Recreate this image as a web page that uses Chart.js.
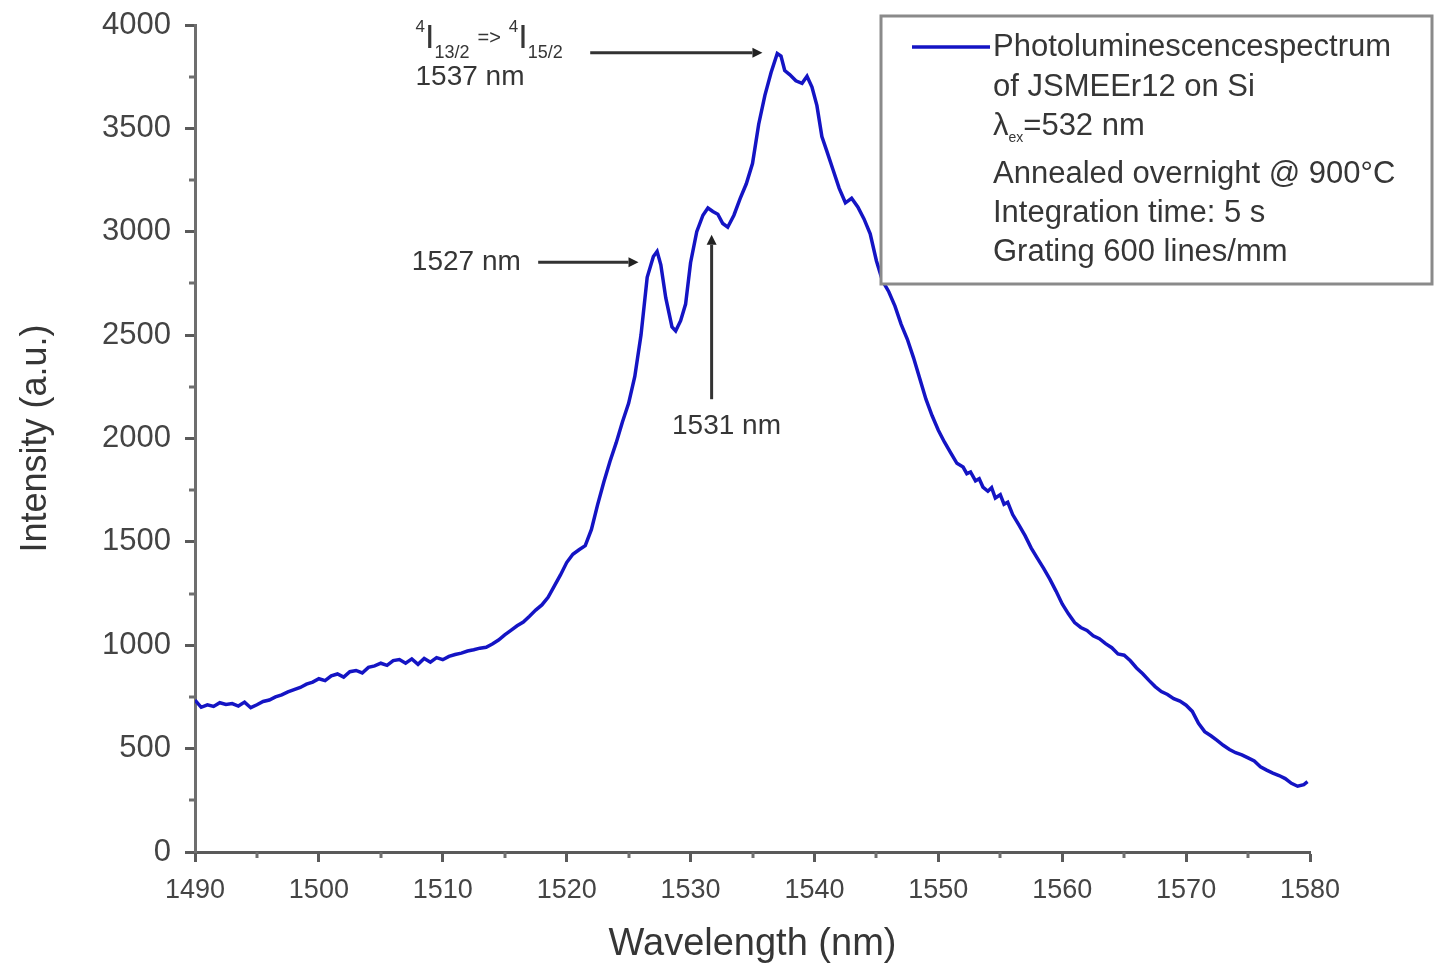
<!DOCTYPE html>
<html>
<head>
<meta charset="utf-8">
<script src="https://cdn.jsdelivr.net/npm/chart.js@4.4.1/dist/chart.umd.min.js"></script>
<style>
  html, body { margin: 0; padding: 0; background: #ffffff; }
  #wrap { width: 1435px; height: 969px; position: relative; }
</style>
</head>
<body>
<div id="wrap"><canvas id="c" width="1435" height="969"></canvas></div>
<script>
// Photoluminescence spectrum, wavelength in nm
const wavelengths = [
  1490.0, 1490.5, 1491.0, 1491.5, 1492.0, 1492.5, 1493.0, 1493.5, 1494.0, 1494.5,
  1495.0, 1495.5, 1496.0, 1496.5, 1497.0, 1497.5, 1498.0, 1498.5, 1499.0, 1499.5,
  1500.0, 1500.5, 1501.0, 1501.5, 1502.0, 1502.5, 1503.0, 1503.5, 1504.0, 1504.5,
  1505.0, 1505.5, 1506.0, 1506.5, 1507.0, 1507.5, 1508.0, 1508.5, 1509.0, 1509.5,
  1510.0, 1510.5, 1511.0, 1511.5, 1512.0, 1512.5, 1513.0, 1513.5, 1514.0, 1514.5,
  1515.0, 1515.5, 1516.0, 1516.5, 1517.0, 1517.5, 1518.0, 1518.5, 1519.0, 1519.5,
  1520.0, 1520.5, 1521.0, 1521.5, 1522.0, 1522.5, 1523.0, 1523.5, 1524.0, 1524.5,
  1525.0, 1525.5, 1526.0, 1526.5, 1527.0, 1527.3, 1527.6, 1528.0, 1528.5, 1528.8,
  1529.2, 1529.6, 1530.0, 1530.5, 1531.0, 1531.4, 1531.8, 1532.2, 1532.6, 1533.0,
  1533.5, 1534.0, 1534.5, 1535.0, 1535.5, 1536.0, 1536.5, 1537.0, 1537.3, 1537.6,
  1538.0, 1538.5, 1539.0, 1539.4, 1539.8, 1540.2, 1540.6, 1541.0, 1541.5, 1542.0,
  1542.5, 1543.0, 1543.5, 1544.0, 1544.5, 1545.0, 1545.5, 1546.0, 1546.5, 1547.0,
  1547.5, 1548.0, 1548.5, 1549.0, 1549.5, 1550.0, 1550.5, 1551.0, 1551.5, 1552.0,
  1552.3, 1552.6, 1553.0, 1553.3, 1553.6, 1554.0, 1554.3, 1554.6, 1555.0, 1555.3,
  1555.6, 1556.0, 1556.5, 1557.0, 1557.5, 1558.0, 1558.5, 1559.0, 1559.5, 1560.0,
  1560.5, 1561.0, 1561.5, 1562.0, 1562.5, 1563.0, 1563.5, 1564.0, 1564.5, 1565.0,
  1565.5, 1566.0, 1566.5, 1567.0, 1567.5, 1568.0, 1568.5, 1569.0, 1569.5, 1570.0,
  1570.5, 1571.0, 1571.5, 1572.0, 1572.5, 1573.0, 1573.5, 1574.0, 1574.5, 1575.0,
  1575.5, 1576.0, 1576.5, 1577.0, 1577.5, 1578.0, 1578.5, 1579.0, 1579.5, 1579.8
];

// Measured intensity (a.u.) at each wavelength above
const intensity = [
   735,  700,  712,  704,  722,  714,  718,  706,  725,  698,
   712,  728,  735,  750,  760,  774,  785,  796,  812,  822,
   838,  829,  852,  861,  846,  872,  878,  866,  893,  900,
   913,  903,  926,  931,  913,  934,  908,  936,  918,  940,
   930,  946,  955,  962,  972,  978,  986,  990, 1006, 1025,
  1050, 1072, 1094, 1112, 1140, 1170, 1195, 1232, 1286, 1340,
  1400, 1440, 1462, 1482, 1560, 1680, 1790, 1890, 1980, 2080,
  2170, 2300, 2500, 2780, 2880, 2905, 2840, 2680, 2540, 2520,
  2570, 2650, 2850, 3000, 3080, 3115, 3098, 3085, 3040, 3022,
  3080, 3160, 3232, 3330, 3520, 3660, 3770, 3862, 3850, 3780,
  3760, 3730, 3718, 3752, 3700, 3610, 3460, 3390, 3300, 3210,
  3140, 3162, 3120, 3062, 2990, 2860, 2762, 2710, 2640, 2552,
  2480, 2390, 2290, 2190, 2110, 2040, 1982, 1930, 1880, 1862,
  1830, 1838, 1795, 1805, 1765, 1745, 1762, 1712, 1728, 1682,
  1692, 1632, 1582, 1530, 1470, 1420, 1372, 1320, 1262, 1200,
  1152, 1110, 1086, 1072, 1046, 1032, 1008,  988,  958,  952,
   925,  890,  862,  830,  800,  776,  762,  742,  730,  710,
   680,  622,  582,  562,  540,  516,  496,  480,  470,  455,
   440,  412,  396,  382,  370,  355,  332,  318,  326,  340
];

// Axis ranges and tick steps
const xRange = [1490, 1580];
const yRange = [0, 4000];
const xMajorStep = 10, xMinorStep = 5;
const yMajorStep = 500, yMinorStep = 250;

// Legend text lines
const legendLines = [
  'Photoluminescencespectrum',
  'of JSMEEr12 on Si',
  ['λ', 'ex', '=532 nm'],
  'Annealed overnight @ 900°C',
  'Integration time: 5 s',
  'Grating 600 lines/mm'
];

// Peak annotations: label anchor and arrow (in data units)
const peakLabels = [
  { text: '1527 nm', x: 1516.3, y: 2853, align: 'right' },
  { text: '1531 nm', x: 1532.9, y: 2060, align: 'center' },
  { text: '1537 nm', x: 1507.8, y: 3745, align: 'left' }
];
const peakArrows = [
  { from: [1517.7, 2853], to: [1525.8, 2853] },
  { from: [1531.7, 2190], to: [1531.7, 2985] },
  { from: [1521.9, 3866], to: [1535.8, 3866] }
];
const transitionLabel = { x: 1507.8, y: 3890 };

const blue = '#1414c4';
const axisGray = '#6e6e6e';
const textGray = '#363636';
const FONT = '"Liberation Sans", Arial, sans-serif';

const points = wavelengths.map((w, i) => ({ x: w, y: intensity[i] }));

// Minor ticks drawn from the scales' own value-to-pixel mapping
const minorTicks = {
  id: 'minorTicks',
  afterDraw(chart) {
    const { ctx, scales: { x, y } } = chart;
    ctx.save();
    ctx.strokeStyle = axisGray;
    ctx.lineWidth = 3;
    for (let v = yRange[0] + yMinorStep; v < yRange[1]; v += yMajorStep) {
      const py = Math.round(y.getPixelForValue(v));
      ctx.beginPath(); ctx.moveTo(x.left - 6, py); ctx.lineTo(x.left, py); ctx.stroke();
    }
    for (let v = xRange[0] + xMinorStep; v < xRange[1]; v += xMajorStep) {
      const px = Math.round(x.getPixelForValue(v));
      ctx.beginPath(); ctx.moveTo(px, y.bottom); ctx.lineTo(px, y.bottom + 6); ctx.stroke();
    }
    ctx.restore();
  }
};

// Arrows and peak labels
const annotations = {
  id: 'annotations',
  afterDatasetsDraw(chart) {
    const { ctx, scales: { x, y } } = chart;
    ctx.save();
    ctx.strokeStyle = '#333333';
    ctx.fillStyle = '#222222';
    ctx.lineWidth = 3;
    peakArrows.forEach(a => {
      const x0 = x.getPixelForValue(a.from[0]), y0 = y.getPixelForValue(a.from[1]);
      const x1 = x.getPixelForValue(a.to[0]), y1 = y.getPixelForValue(a.to[1]);
      const ang = Math.atan2(y1 - y0, x1 - x0);
      const head = 10, hw = 5;
      ctx.beginPath();
      ctx.moveTo(x0, y0);
      ctx.lineTo(x1 - Math.cos(ang) * head, y1 - Math.sin(ang) * head);
      ctx.stroke();
      ctx.beginPath();
      ctx.moveTo(x1, y1);
      ctx.lineTo(x1 - Math.cos(ang) * head - Math.sin(ang) * hw, y1 - Math.sin(ang) * head + Math.cos(ang) * hw);
      ctx.lineTo(x1 - Math.cos(ang) * head + Math.sin(ang) * hw, y1 - Math.sin(ang) * head - Math.cos(ang) * hw);
      ctx.closePath();
      ctx.fill();
    });

    ctx.fillStyle = textGray;
    ctx.textBaseline = 'middle';
    peakLabels.forEach(l => {
      ctx.font = '28px ' + FONT;
      ctx.textAlign = l.align;
      ctx.fillText(l.text, x.getPixelForValue(l.x), y.getPixelForValue(l.y));
    });

    // 4I13/2 => 4I15/2 transition label
    let px = x.getPixelForValue(transitionLabel.x);
    const py = y.getPixelForValue(transitionLabel.y);
    ctx.textAlign = 'left';
    ctx.textBaseline = 'alphabetic';
    const part = (t, size, dy) => {
      ctx.font = size + 'px ' + FONT;
      ctx.fillText(t, px, py + dy);
      px += ctx.measureText(t).width;
    };
    part('4', 17, -16);
    part('I', 34, 0);
    part('13/2', 18, 10);
    px += 8;
    part('=>', 20, -4);
    px += 8;
    part('4', 17, -16);
    part('I', 34, 0);
    part('15/2', 18, 10);
    ctx.restore();
  }
};

// Boxed legend with the series sample and notes
const noteBox = {
  id: 'noteBox',
  afterDraw(chart) {
    const { ctx } = chart;
    const left = 881, top = 16, right = 1432, bottom = 284;
    ctx.save();
    ctx.fillStyle = '#ffffff';
    ctx.fillRect(left, top, right - left, bottom - top);
    ctx.strokeStyle = '#8a8a8a';
    ctx.lineWidth = 3;
    ctx.strokeRect(left, top, right - left, bottom - top);

    ctx.strokeStyle = chart.data.datasets[0].borderColor;
    ctx.lineWidth = 3.5;
    ctx.beginPath(); ctx.moveTo(912, 47); ctx.lineTo(990, 47); ctx.stroke();

    ctx.fillStyle = textGray;
    ctx.textAlign = 'left';
    ctx.textBaseline = 'middle';
    const ys = [47, 87, 126, 174, 213, 252];
    legendLines.forEach((line, i) => {
      let px = 993;
      if (Array.isArray(line)) {
        ctx.font = '31px ' + FONT;
        ctx.fillText(line[0], px, ys[i]);
        px += ctx.measureText(line[0]).width;
        ctx.font = '14px ' + FONT;
        ctx.fillText(line[1], px, ys[i] + 12);
        px += ctx.measureText(line[1]).width;
        ctx.font = '31px ' + FONT;
        ctx.fillText(line[2], px, ys[i]);
      } else {
        ctx.font = '31px ' + FONT;
        ctx.fillText(line, px, ys[i]);
      }
    });
    ctx.restore();
  }
};

new Chart(document.getElementById('c'), {
  type: 'line',
  data: {
    datasets: [{
      label: 'Photoluminescencespectrum of JSMEEr12 on Si',
      data: points,
      borderColor: blue,
      borderWidth: 3.5,
      pointRadius: 0,
      tension: 0,
      fill: false
    }]
  },
  options: {
    responsive: false,
    animation: false,
    devicePixelRatio: 1,
    layout: { padding: { left: 0, top: 25, right: 125, bottom: 0 } },
    plugins: { legend: { display: false }, tooltip: { enabled: false } },
    scales: {
      x: {
        type: 'linear',
        min: xRange[0], max: xRange[1],
        afterFit: s => { s.height = 117; s.paddingLeft = 0; s.paddingRight = 0; },
        border: { color: '#5a5a5a', width: 3 },
        grid: { display: true, drawOnChartArea: false, tickLength: 10, tickColor: '#5a5a5a', tickWidth: 3 },
        ticks: { stepSize: xMajorStep, color: '#444444', padding: 12, maxRotation: 0,
                 font: { family: FONT, size: 27 }, callback: v => String(v) },
        title: { display: true, text: 'Wavelength (nm)', color: textGray,
                 font: { family: FONT, size: 38 }, padding: { top: 0, bottom: 2 } }
      },
      y: {
        min: yRange[0], max: yRange[1],
        afterFit: s => { s.width = 195; s.paddingTop = 0; s.paddingBottom = 0; },
        border: { color: axisGray, width: 3 },
        grid: { display: true, drawOnChartArea: false, tickLength: 10, tickColor: '#5a5a5a', tickWidth: 3 },
        ticks: { stepSize: yMajorStep, color: '#444444', padding: 14,
                 font: { family: FONT, size: 31 }, callback: v => String(v) },
        title: { display: true, text: 'Intensity (a.u.)', color: textGray,
                 font: { family: FONT, size: 36 }, padding: { top: 14, bottom: 0 } }
      }
    }
  },
  plugins: [minorTicks, annotations, noteBox]
});
</script>
</body>
</html>
